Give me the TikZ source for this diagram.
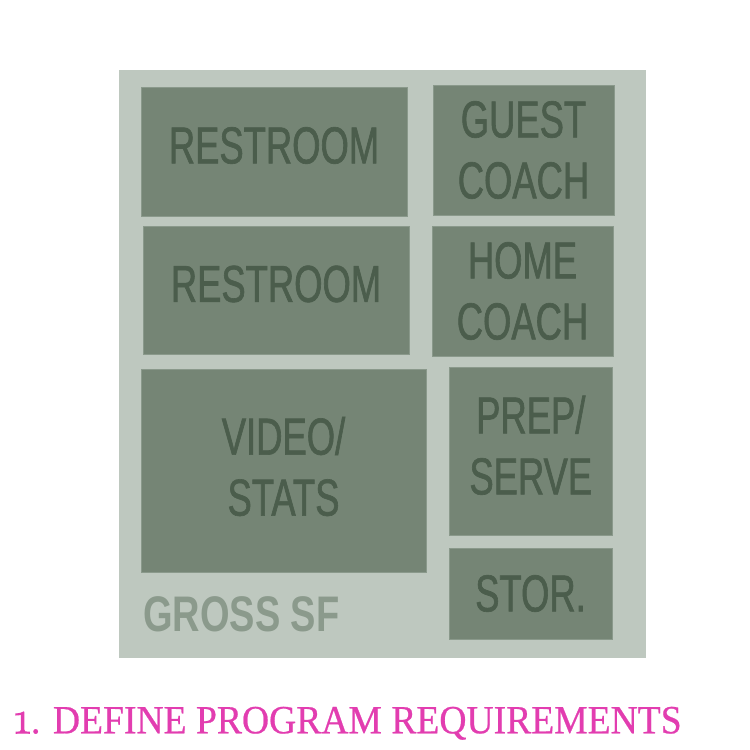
\documentclass[tikz,border=0pt]{standalone}
\usepackage{fontspec}
\newfontfamily\roomfont[FakeStretch=0.7, FakeBold=1.2]{Liberation Sans}
\newfontfamily\grossfont[FakeStretch=0.76]{Liberation Sans}
\newfontfamily\titlefont[FakeStretch=0.94, FakeBold=0.6]{Liberation Serif}
\newfontfamily\numfont[Numbers=OldStyle, FakeBold=2]{Latin Modern Roman}
\definecolor{grossfill}{HTML}{BEC8BF}
\definecolor{roomfill}{HTML}{758575}
\definecolor{roomedge}{HTML}{8A998B}
\definecolor{roomtext}{HTML}{4B5D4C}
\definecolor{grosstext}{HTML}{8B9A8C}
\definecolor{titlepink}{HTML}{E23DB0}
\tikzset{
	room/.style = {fill=roomfill, draw=roomedge, line width=0.6pt,
		inner sep=0pt, outer sep=0pt},
	roomlabel/.style = {text=roomtext, font=\roomfont\fontsize{52}{61}\selectfont,
		align=center, inner sep=0pt}
}

\begin{document}
\begin{tikzpicture}[x=1pt, y=-1pt]
	      	\useasboundingbox (0,0) rectangle (750,750);
	      	\node[fill=grossfill, inner sep=0pt, minimum width=526.7pt, minimum height=588.2pt] (gross) at (382.3,363.6) {};
	      	\node[room, minimum width=266pt, minimum height=129pt] (rest1) at (274,151.5) {};
	      	\node[room, minimum width=181pt, minimum height=130pt] (guest) at (523.5,150) {};
	      	\node[room, minimum width=266pt, minimum height=128pt] (rest2) at (276,290) {};
	      	\node[room, minimum width=181pt, minimum height=130pt] (home) at (522.5,291) {};
	      	\node[room, minimum width=285pt, minimum height=203pt] (video) at (283.5,470.5) {};
	      	\node[room, minimum width=163.7pt, minimum height=168.7pt] (prep) at (530.8,451.3) {};
	      	\node[room, minimum width=163pt, minimum height=91pt] (stor) at (530.5,593.5) {};
	      	\node[roomlabel, yshift=6pt] (rest1label) at (rest1.center) {RESTROOM};
	      	\node[roomlabel] (guestlabel) at (guest.center) {GUEST\\COACH};
	      	\node[roomlabel, yshift=6pt] (rest2label) at (rest2.center) {RESTROOM};
	      	\node[roomlabel] (homelabel) at (home.center) {HOME\\COACH};
	      	\node[roomlabel, yshift=4pt] (videolabel) at (video.center) {VIDEO/\\STATS};
	      	\node[roomlabel, yshift=6pt] (preplabel) at (prep.center) {PREP/\\SERVE};
	      	\node[roomlabel] (storlabel) at (stor.center) {STOR.};
	      	\node[anchor=base west, inner sep=0pt, text=grosstext, font=\grossfont\bfseries\fontsize{50}{60}\selectfont] (grosslabel) at (143,631) {GROSS SF};
	      	\node[anchor=base west, inner sep=0pt, text=titlepink, font=\titlefont\fontsize{40}{48}\selectfont] (title) at (14,733.3) {{\numfont\fontsize{46}{48}\selectfont 1}. DEFINE PROGRAM REQUIREMENTS};
	      \end{tikzpicture}
\end{document}
